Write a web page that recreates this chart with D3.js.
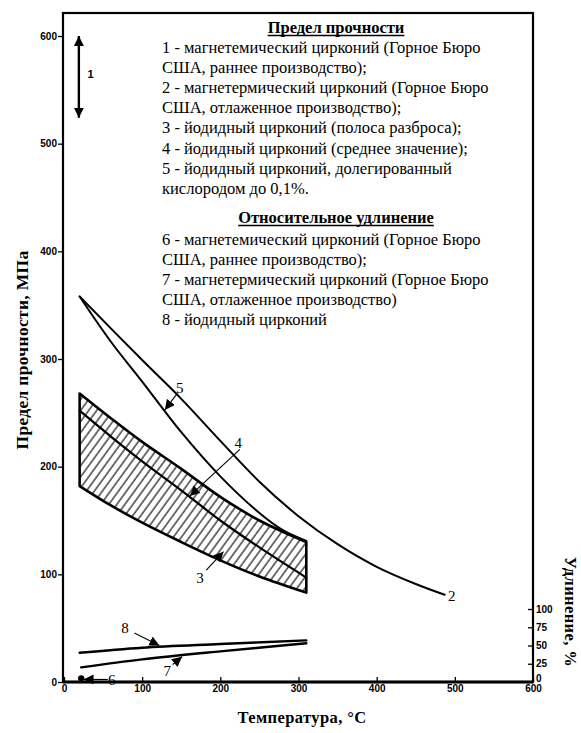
<!DOCTYPE html>
<html>
<head>
<meta charset="utf-8">
<script src="https://cdn.jsdelivr.net/npm/d3@7"></script>
<style>
  html, body { margin: 0; padding: 0; background: #fff; }
  svg { display: block; }
</style>
</head>
<body>
<svg id="chart" width="581" height="733"></svg>
<script>
// Axis ticks
const tempTicks = [0, 100, 200, 300, 400, 500, 600];
const strengthTicks = [0, 100, 200, 300, 400, 500, 600];
const elongTicks = [0, 25, 50, 75, 100];

// 1 - scatter of early magnesium-reduced zirconium at room temperature (MPa)
const range1T = 19;
const range1 = [524, 600];

// 2 - magnesium-reduced zirconium, refined production (MPa)
const curve2T = [20, 100, 150, 200, 250, 300, 350, 400, 450, 487];
const curve2 = [358, 299, 263, 224, 186, 154, 128, 107, 91, 81];

// 5 - iodide zirconium alloyed with 0.1% oxygen (MPa)
const curve5T = [20, 60, 100, 150, 200, 250, 280, 310];
const curve5 = [358, 316, 279, 232, 191, 157, 141, 131];

// 3 - iodide zirconium scatter band, 4 - its mean (MPa)
const bandT = [20, 60, 100, 150, 200, 250, 310];
const bandUpper = [268, 245, 223, 198, 172, 150, 130];
const bandLower = [182, 164, 148, 130, 113, 98, 83];
const bandMean = [252, 228, 205, 178, 150, 125, 97];

// Elongation, % (right axis)
const point6T = 22;
const point6 = 5;
const curve7T = [22, 100, 200, 310];
const curve7 = [20, 31, 42, 53];
const curve8T = [20, 100, 200, 310];
const curve8 = [40, 47, 52, 57];

// Legend text
const legendStrengthTitle = "Предел прочности";
const legendStrength = [
  "1 - магнетемический цирконий (Горное Бюро",
  "США, раннее производство);",
  "2 - магнетермический цирконий (Горное Бюро",
  "США, отлаженное производство);",
  "3 - йодидный цирконий (полоса разброса);",
  "4 - йодидный цирконий (среднее значение);",
  "5 - йодидный цирконий, долегированный",
  "кислородом до 0,1%."
];
const legendElongTitle = "Относительное удлинение";
const legendElong = [
  "6 - магнетемический цирконий (Горное Бюро",
  "США, раннее производство);",
  "7 - магнетермический цирконий (Горное Бюро",
  "США, отлаженное производство)",
  "8 - йодидный цирконий"
];

const svg = d3.select("#chart");
const serif = "'Liberation Serif', 'Times New Roman', serif";
const sans = "'Liberation Sans', Arial, sans-serif";

const plot = { left: 63, right: 533, top: 13, bottom: 682 };
const x = d3.scaleLinear().domain([0, 600]).range([64, 533]);
const yL = d3.scaleLinear().domain([0, 600]).range([682, 36]);
const yR = d3.scaleLinear().domain([0, 100]).range([682, 609]);

const zip = (ts, vs) => ts.map((t, i) => [t, vs[i]]);
const interp = (ts, vs, t) => d3.scaleLinear().domain(ts).range(vs)(t);

// hatching for the scatter band
const defs = svg.append("defs");
const pat = defs.append("pattern")
  .attr("id", "hatch").attr("patternUnits", "userSpaceOnUse")
  .attr("width", 6.5).attr("height", 10)
  .attr("patternTransform", "rotate(36)");
pat.append("line").attr("x1", 1).attr("y1", -2).attr("x2", 1).attr("y2", 12)
  .attr("stroke", "#000").attr("stroke-width", 1.1);

const mk = defs.append("marker")
  .attr("id", "head").attr("viewBox", "0 0 10 10")
  .attr("refX", 10).attr("refY", 5)
  .attr("markerWidth", 10).attr("markerHeight", 10)
  .attr("markerUnits", "userSpaceOnUse")
  .attr("orient", "auto-start-reverse");
mk.append("path").attr("d", "M0,0 L10,5 L0,10 Z").attr("fill", "#000");

// frame
svg.append("rect")
  .attr("x", plot.left).attr("y", plot.top)
  .attr("width", plot.right - plot.left).attr("height", plot.bottom - plot.top)
  .attr("fill", "none").attr("stroke", "#000").attr("stroke-width", 2.2);
svg.append("line").attr("x1", plot.left).attr("x2", plot.right)
  .attr("y1", plot.bottom).attr("y2", plot.bottom)
  .attr("stroke", "#000").attr("stroke-width", 3);

// axes
const tickFont = g => g.selectAll("text")
  .attr("font-family", sans).attr("font-weight", "bold").attr("font-size", 10).attr("fill", "#000");

const gL = svg.append("g").attr("transform", `translate(${plot.left},0)`)
  .call(d3.axisLeft(yL).tickValues(strengthTicks).tickSize(5).tickPadding(1).tickFormat(d3.format("d")));
gL.select(".domain").remove();
gL.selectAll("line").attr("stroke-width", 1.3);
tickFont(gL);

const gB = svg.append("g").attr("transform", `translate(0,${plot.bottom})`)
  .call(d3.axisBottom(x).tickValues(tempTicks).tickSize(-5).tickPadding(3).tickFormat(d3.format("d")));
gB.select(".domain").remove();
gB.selectAll("line").attr("stroke-width", 1.3);
tickFont(gB);

const gR = svg.append("g").attr("transform", `translate(${plot.right},0)`)
  .call(d3.axisRight(yR).tickValues(elongTicks).tickSize(-5).tickPadding(3).tickFormat(d3.format("d")));
gR.select(".domain").remove();
gR.selectAll("line").attr("stroke-width", 1.3);
tickFont(gR);
gR.selectAll("text").attr("dy", d => d === 0 ? "-0.05em" : "0.32em");

// axis titles
svg.append("text")
  .attr("transform", `translate(28,350) rotate(-90)`)
  .attr("text-anchor", "middle")
  .attr("font-family", serif).attr("font-weight", "bold").attr("font-size", 17.5)
  .attr("letter-spacing", 0.3)
  .text("Предел прочности, МПа");
svg.append("text")
  .attr("x", 302).attr("y", 723)
  .attr("text-anchor", "middle")
  .attr("font-family", serif).attr("font-weight", "bold").attr("font-size", 16.5)
  .attr("letter-spacing", 0.4)
  .text("Температура, °С");
svg.append("text")
  .attr("transform", `translate(565,612) rotate(90)`)
  .attr("text-anchor", "middle")
  .attr("font-family", serif).attr("font-weight", "bold").attr("font-size", 16.5)
  .attr("letter-spacing", 0.4)
  .text("Удлинение, %");

// legend
const legend = svg.append("g").attr("font-family", serif).attr("font-size", 16.5).attr("fill", "#000");
const addTitle = (txt, y) => {
  const t = legend.append("text").attr("x", 336).attr("y", y).attr("text-anchor", "middle")
    .attr("font-weight", "bold").text(txt);
  const w = t.node().getComputedTextLength();
  legend.append("line").attr("x1", 336 - w / 2).attr("x2", 336 + w / 2)
    .attr("y1", y + 2.5).attr("y2", y + 2.5).attr("stroke", "#000").attr("stroke-width", 1.3);
};
addTitle(legendStrengthTitle, 33);
legendStrength.forEach((s, i) => legend.append("text").attr("x", 162).attr("y", 53 + i * 20.1).text(s));
addTitle(legendElongTitle, 223);
legendElong.forEach((s, i) => legend.append("text").attr("x", 162).attr("y", 245 + i * 20.1).text(s));

// scatter band 3 with hatching
const bandData = bandT.map((t, i) => ({ t, lo: bandLower[i], hi: bandUpper[i] }));
const area = d3.area().x(d => x(d.t)).y0(d => yL(d.lo)).y1(d => yL(d.hi)).curve(d3.curveCatmullRom);
svg.append("path").datum(bandData).attr("d", area)
  .attr("fill", "url(#hatch)").attr("stroke", "#000").attr("stroke-width", 2.6)
  .attr("stroke-linejoin", "round");

// strength curves
const lineL = d3.line().x(d => x(d[0])).y(d => yL(d[1])).curve(d3.curveCatmullRom);
const lineR = d3.line().x(d => x(d[0])).y(d => yR(d[1])).curve(d3.curveCatmullRom);
const strokeCurve = (path, w) => svg.append("path").attr("d", path)
  .attr("fill", "none").attr("stroke", "#000").attr("stroke-width", w).attr("stroke-linecap", "round");

strokeCurve(lineL(zip(bandT, bandMean)), 2.2);
strokeCurve(lineL(zip(curve5T, curve5)), 2);
strokeCurve(lineL(zip(curve2T, curve2)), 2);

// elongation curves
strokeCurve(lineR(zip(curve8T, curve8)), 2.4);
strokeCurve(lineR(zip(curve7T, curve7)), 2.4);

// range 1: double-headed arrow
svg.append("line")
  .attr("x1", x(range1T)).attr("x2", x(range1T))
  .attr("y1", yL(range1[0])).attr("y2", yL(range1[1]))
  .attr("stroke", "#000").attr("stroke-width", 2.4)
  .attr("marker-start", "url(#head)").attr("marker-end", "url(#head)");

// point 6
svg.append("circle").attr("cx", x(point6T)).attr("cy", yR(point6)).attr("r", 3.2).attr("fill", "#000");

// leader with an arrowhead from (fromT, fromV) to (tipT, tipV)
const pointer = (fromT, fromV, tipT, tipV, ys) => svg.append("line")
  .attr("x1", x(fromT)).attr("y1", ys(fromV)).attr("x2", x(tipT)).attr("y2", ys(tipV))
  .attr("stroke", "#000").attr("stroke-width", 1.1).attr("marker-end", "url(#head)");
const label = (txt, t, v, ys, size) => svg.append("text")
  .attr("x", x(t)).attr("y", ys(v)).attr("dy", "0.35em").attr("text-anchor", "middle")
  .attr("font-family", serif).attr("font-size", size || 15).text(txt);

label("1", 34, 565, yL, 11).attr("font-family", sans).attr("font-weight", "bold");

label("2", curve2T[curve2T.length - 1] + 9, curve2[curve2.length - 1] - 1, yL);

pointer(145, 268, 129, interp(curve5T, curve5, 129) + 1, yL);
label("5", 148, 273, yL);

pointer(225, 216, 161, interp(bandT, bandMean, 161) + 1, yL);
label("4", 223, 222, yL);

pointer(182, 104, 204, 121, yL);
label("3", 174, 97, yL);

pointer(90, 67, 122, interp(curve8T, curve8, 122) + 2, yR);
label("8", 78, 74, yR);

pointer(139, 24, 151, interp(curve7T, curve7, 151) - 2, yR);
label("7", 132, 15, yR);

pointer(56, 3.5, 25, 3.5, yR);
label("6", 61, 2.5, yR);
</script>
</body>
</html>
